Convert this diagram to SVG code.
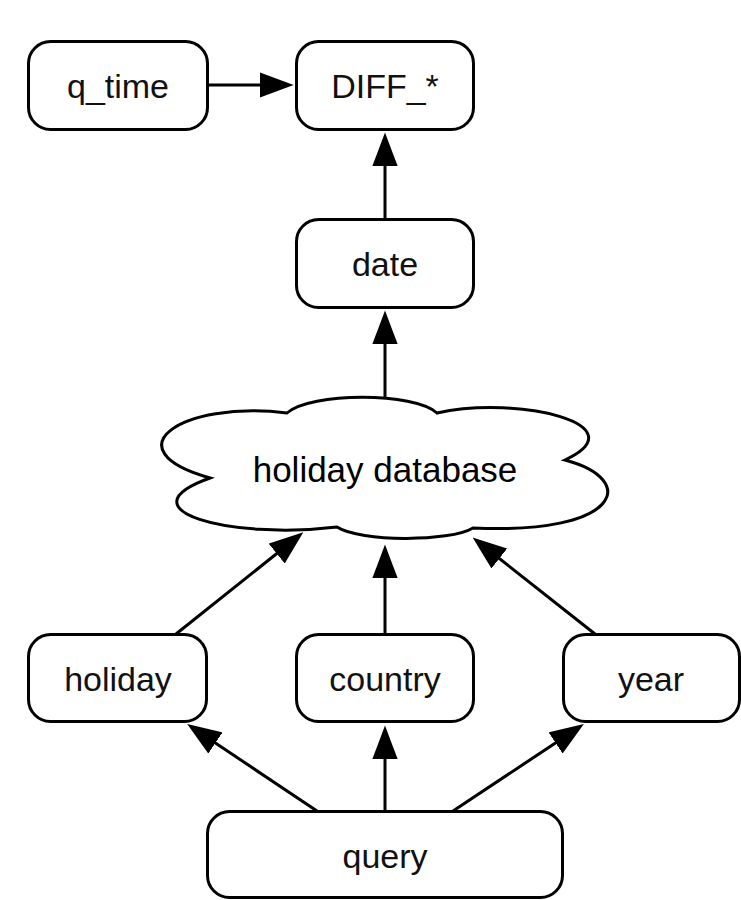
<svg xmlns="http://www.w3.org/2000/svg" width="741" height="900" viewBox="0 0 741 900">
<style>
.box{fill:#fff;stroke:#000;stroke-width:3}
.lbl{font-family:"Liberation Sans",Arial,sans-serif;font-size:34px;fill:#111;text-anchor:middle}
.cl{font-size:35px;fill:#000}
.edge{stroke:#000;stroke-width:3;fill:none;marker-end:url(#ah)}
</style>
<defs>
<marker id="ah" markerUnits="userSpaceOnUse" markerWidth="34" markerHeight="26" viewBox="0 0 32 24" refX="22" refY="12" orient="auto">
<path d="M0,0 L32,12 L0,24 Z" fill="#000"/>
</marker>
</defs>
<rect width="741" height="900" fill="#fff"/>
<g id="connectors">
<line class="edge" x1="208" y1="85" x2="283" y2="85"/>
<line class="edge" x1="385" y1="218" x2="385" y2="143"/>
<line class="edge" x1="385" y1="399" x2="385" y2="321"/>
<line class="edge" x1="176" y1="634" x2="295" y2="539"/>
<line class="edge" x1="385" y1="634" x2="385" y2="555"/>
<line class="edge" x1="595" y1="634" x2="481" y2="544"/>
<line class="edge" x1="317" y1="811" x2="196" y2="730"/>
<line class="edge" x1="385" y1="811" x2="385" y2="736"/>
<line class="edge" x1="453" y1="811" x2="575" y2="730"/>
</g>
<g id="q_time">
<rect class="box" x="28.5" y="41.5" width="179" height="88" rx="22"/>
<text class="lbl" x="118" y="98">q_time</text>
</g>
<g id="DIFF">
<rect class="box" x="296.5" y="41.5" width="177" height="88" rx="22"/>
<text class="lbl" x="385" y="98">DIFF_*</text>
</g>
<g id="date">
<rect class="box" x="296.5" y="219.5" width="177" height="88" rx="22"/>
<text class="lbl" x="385" y="276">date</text>
</g>
<g id="holiday_database">
<path class="box" d="M287,413 C310,392 415,392 437,413 C520,395 640,425 565,460 C640,480 620,535 473,528 C450,542 360,542 337,527 C230,540 120,510 210,478 C110,450 180,400 287,413 Z"/>
<text class="lbl cl" x="385" y="482">holiday database</text>
</g>
<g id="holiday">
<rect class="box" x="28.5" y="634.5" width="178" height="87" rx="22"/>
<text class="lbl" x="118" y="691">holiday</text>
</g>
<g id="country">
<rect class="box" x="296.5" y="634.5" width="177" height="87" rx="22"/>
<text class="lbl" x="385" y="691">country</text>
</g>
<g id="year">
<rect class="box" x="563.5" y="634.5" width="176" height="87" rx="22"/>
<text class="lbl" x="651" y="691">year</text>
</g>
<g id="query">
<rect class="box" x="207.5" y="811.5" width="355" height="86" rx="22"/>
<text class="lbl" x="385" y="868">query</text>
</g>
</svg>
